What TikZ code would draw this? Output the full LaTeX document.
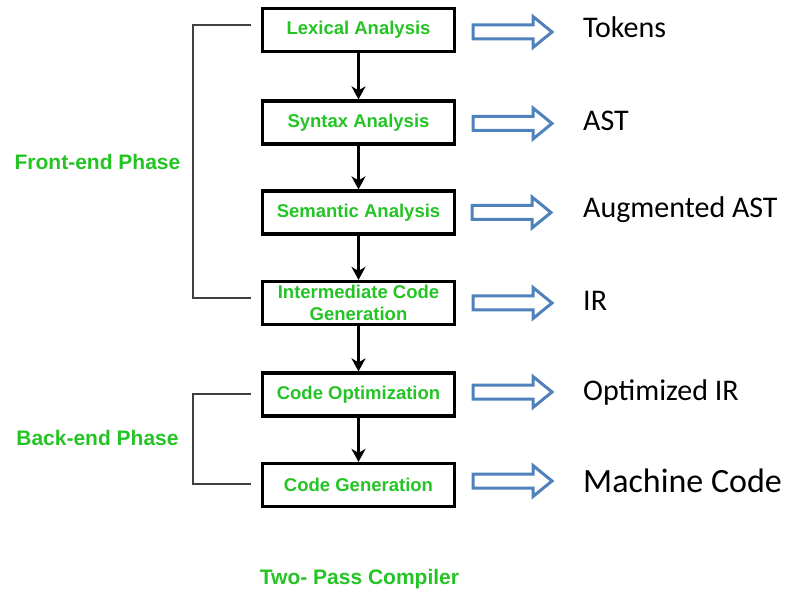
\documentclass[tikz,border=0pt]{standalone}
\usepackage{fontspec}
\setmainfont{Liberation Sans}
\newfontfamily\calib{Carlito}
\usetikzlibrary{arrows.meta,calc}
\definecolor{phgreen}{RGB}{36,196,36}
\definecolor{arrblue}{RGB}{79,129,189}
\definecolor{brk}{RGB}{64,64,64}
\tikzset{
  x=1pt, y=-1pt,
  stagebox/.style={draw=black, line width=3.2pt, fill=white, minimum width=192pt, minimum height=43pt,
    inner sep=0pt, align=center, text=phgreen, font=\fontsize{18.5}{22}\selectfont\bfseries},
  phaselabel/.style={text=phgreen, font=\fontsize{21}{24}\selectfont\bfseries, inner sep=0pt},
  outlabel/.style={anchor=base west, inner sep=0pt, text=black, font=\calib\fontsize{30}{34}\selectfont},
  flow/.style={line width=2.8pt, -{Stealth[length=13pt,width=14pt,inset=4pt]}},
  bracket/.style={draw=brk, line width=2pt},
  hollow/.style={draw=arrblue, line width=3pt, fill=white, line join=miter}
}
\newcommand{\hollowarrow}[1]{%
  \draw[hollow] ($(#1)+(0,7)$) -- ++(60,0) -- ++(0,8.5) -- ++(19,-15.5) -- ++(-19,-15.5) -- ++(0,8.5) -- ++(-60,0) -- cycle;}
\begin{document}
\begin{tikzpicture}
\useasboundingbox (0,0) rectangle (789,593);
% stage boxes
\node[stagebox] (lex) at (358.5,30) {Lexical Analysis};
\node[stagebox] (syn) at (358.5,122.5) {Syntax Analysis};
\node[stagebox] (sem) at (358.5,212.5) {Semantic Analysis};
\node[stagebox] (icg) at (358.5,303) {Intermediate Code\\Generation};
\node[stagebox] (opt) at (358.5,394.5) {Code Optimization};
\node[stagebox] (gen) at (358.5,485) {Code Generation};
% flow arrows
\draw[flow] (lex) -- (syn);
\draw[flow] (syn) -- (sem);
\draw[flow] (sem) -- (icg);
\draw[flow] (icg) -- (opt);
\draw[flow] (opt) -- (gen);
% phase labels
\node[phaselabel] (fe) at (97.5,162) {Front-end Phase};
\node[phaselabel] (be) at (97.5,438) {Back-end Phase};
\node[phaselabel] (title) at (359.5,579) {Two- Pass Compiler};
% brackets
\coordinate (fe1) at (251,25);
\coordinate (fe2) at (251,298);
\coordinate (be1) at (251,394);
\coordinate (be2) at (251,484);
\draw[bracket] (fe1) -| (193,298) -- (fe2);
\draw[bracket] (be1) -| (193,484) -- (be2);
% hollow arrows
\coordinate (a1) at (473,32);
\coordinate (a2) at (473,123.5);
\coordinate (a3) at (472,212.5);
\coordinate (a4) at (473,303);
\coordinate (a5) at (473,392);
\coordinate (a6) at (473,481);
\hollowarrow{a1}
\hollowarrow{a2}
\hollowarrow{a3}
\hollowarrow{a4}
\hollowarrow{a5}
\hollowarrow{a6}
% output labels
\node[outlabel] (o1) at (583,38) {Tokens};
\node[outlabel] (o2) at (583,131) {AST};
\node[outlabel] (o3) at (583,218) {Augmented AST};
\node[outlabel] (o4) at (583,311) {IR};
\node[outlabel] (o5) at (583,400) {Optimized IR};
\node[outlabel, font=\calib\fontsize{34}{38}\selectfont] (o6) at (583,492) {Machine Code};
\end{tikzpicture}
\end{document}
